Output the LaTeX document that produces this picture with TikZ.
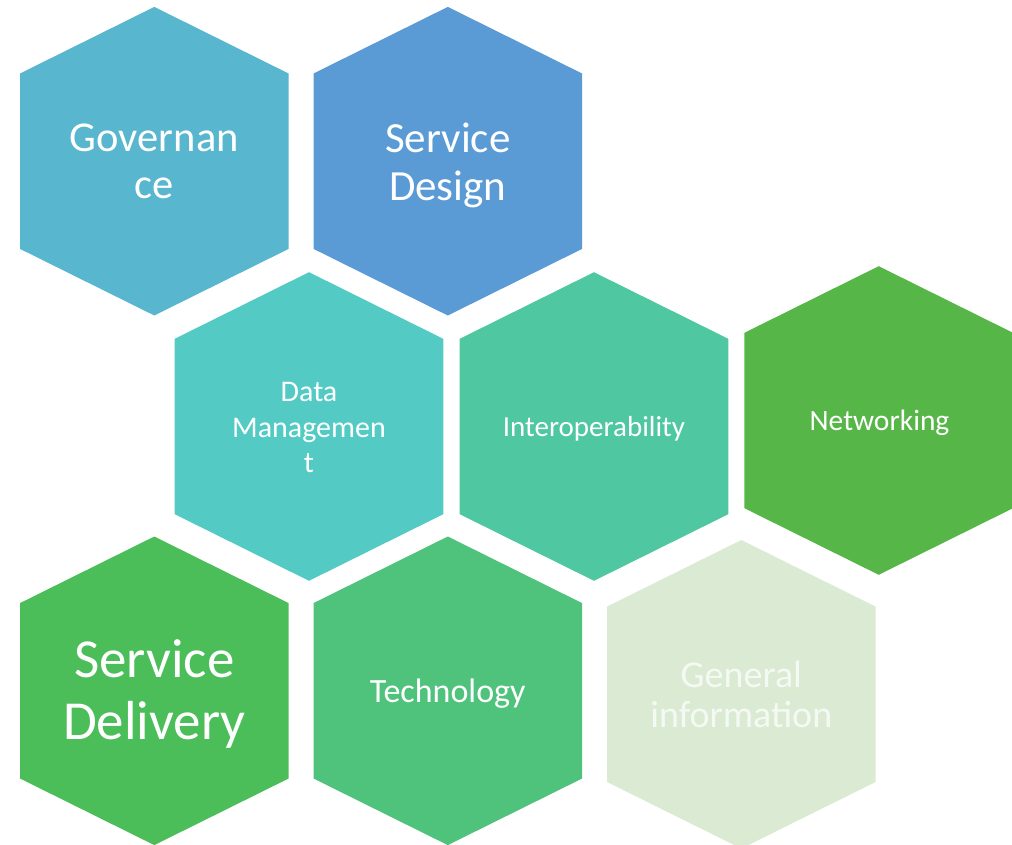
\documentclass[tikz,border=0pt]{standalone}
\usepackage{fontspec}
\setmainfont{Carlito}
\definecolor{cgov}{RGB}{88,182,206}
\definecolor{csd}{RGB}{91,155,213}
\definecolor{cdm}{RGB}{83,203,196}
\definecolor{cio}{RGB}{79,199,160}
\definecolor{cnw}{RGB}{86,182,71}
\definecolor{cdel}{RGB}{75,190,90}
\definecolor{ctech}{RGB}{79,194,123}
\definecolor{cgi}{RGB}{219,235,211}
\definecolor{cgitext}{RGB}{245,249,243}
\newcommand\hexshape[3]{%
  \fill[#3,shift={(#1,#2)}] (0,-154.3) -- (134.3,-87.7) -- (134.3,87.7) -- (0,154.3) -- (-134.3,87.7) -- (-134.3,-87.7) -- cycle;}
\tikzset{hextext/.style={text=white,align=center,inner sep=0pt}}
\begin{document}
\begin{tikzpicture}[x=1pt,y=-1pt]
\useasboundingbox (0,0) rectangle (1012,845);
\hexshape{154.3}{161.2}{cgov}
\hexshape{447.8}{161.2}{csd}
\hexshape{309}{426.5}{cdm}
\hexshape{594}{426.5}{cio}
\hexshape{878.7}{420.5}{cnw}
\hexshape{154.3}{690.8}{cdel}
\hexshape{447.8}{690.8}{ctech}
\hexshape{741.3}{694.3}{cgi}
\node[hextext,font=\fontsize{42.5}{47}\selectfont] (gov) at (154.3,161.5) {Governan\\ce};
\node[hextext,font=\fontsize{43}{48}\selectfont] (sd) at (447.8,165) {Service\\Design};
\node[hextext,font=\fontsize{30}{35.5}\selectfont] (dm) at (309,427.5) {Data\\Managemen\\t};
\node[hextext,font=\fontsize{29}{34}\selectfont] (io) at (594,428.5) {Interoperability};
\node[hextext,font=\fontsize{29.5}{34}\selectfont] (nw) at (879.5,422.5) {Networking};
\node[hextext,font=\fontsize{55}{61.6}\selectfont] (del) at (154.3,694) {Service\\Delivery};
\node[hextext,font=\fontsize{34}{40}\selectfont] (tech) at (447.8,694) {Technology};
\node[hextext,text=cgitext,font=\fontsize{38}{39.5}\selectfont] (gi) at (741.3,694.3) {General\\information};
\end{tikzpicture}
\end{document}
